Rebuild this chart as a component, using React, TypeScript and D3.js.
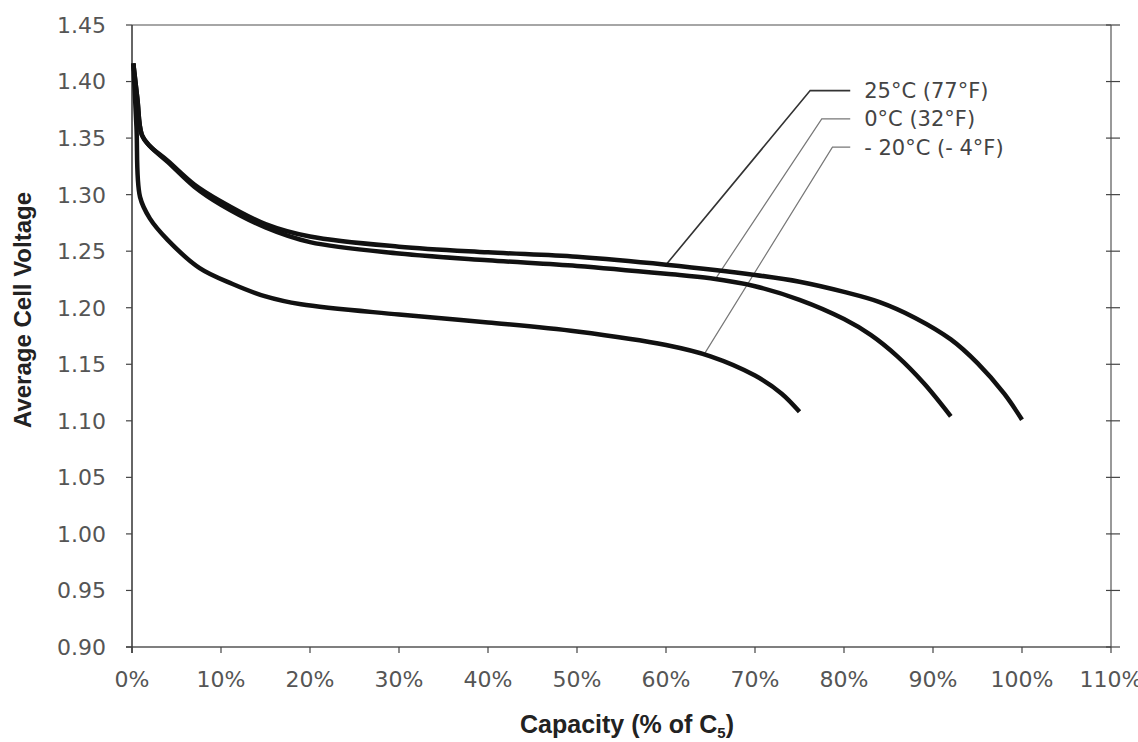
import React from "react";
import * as d3 from "d3";

// capacity (% of C5) and average cell voltage for each temperature
const cap25 = [0.15, 0.6, 1.1, 2, 4, 7, 10, 15, 20, 30, 40, 50, 60, 70, 75, 80, 84, 88, 92, 95, 98, 100];
const volt25 = [1.416, 1.385, 1.353, 1.343, 1.330, 1.309, 1.294, 1.274, 1.263, 1.254, 1.249, 1.245, 1.238, 1.229, 1.223, 1.214, 1.205, 1.191, 1.172, 1.151, 1.124, 1.101];

const cap0 = [0.15, 0.6, 1.1, 2, 4, 7, 10, 15, 20, 30, 40, 50, 60, 65, 70, 75, 80, 83, 86, 89, 92];
const volt0 = [1.416, 1.385, 1.353, 1.343, 1.329, 1.307, 1.291, 1.271, 1.258, 1.248, 1.242, 1.237, 1.230, 1.226, 1.219, 1.207, 1.190, 1.176, 1.157, 1.133, 1.104];

const capM20 = [0.15, 0.5, 0.9, 2, 4, 7.6, 11.3, 15, 19, 30, 40, 50, 60, 65, 70, 73, 75];
const voltM20 = [1.416, 1.36, 1.298, 1.279, 1.260, 1.235, 1.221, 1.210, 1.203, 1.194, 1.187, 1.179, 1.167, 1.157, 1.140, 1.124, 1.108];

const seriesLabels = ["25°C (77°F)", "0°C (32°F)", "- 20°C (- 4°F)"];
// leader line: point on curve -> elbow -> end of horizontal
const leaderTarget = [[60, 1.238], [65.6, 1.226], [64.3, 1.159]];
const leaderElbow = [[76.2, 1.392], [77.5, 1.367], [78.7, 1.342]];
const leaderEnd = 80.7;

const xTicks = [0, 10, 20, 30, 40, 50, 60, 70, 80, 90, 100, 110];
const yTicks = [0.9, 0.95, 1.0, 1.05, 1.1, 1.15, 1.2, 1.25, 1.3, 1.35, 1.4, 1.45];

const W = 1138;
const H = 742;

export default function App() {
  const x = d3.scaleLinear().domain([0, 110]).range([132, 1111]);
  const y = d3.scaleLinear().domain([0.9, 1.45]).range([647, 25]);

  const line = d3
    .line<number[]>()
    .x((d) => x(d[0]))
    .y((d) => y(d[1]))
    .curve(d3.curveCatmullRom.alpha(0.5));

  const series = [
    cap25.map((c, i) => [c, volt25[i]]),
    cap0.map((c, i) => [c, volt0[i]]),
    capM20.map((c, i) => [c, voltM20[i]]),
  ];

  const tickFont = "'DejaVu Sans', sans-serif";
  const titleFont = "'Liberation Sans', Arial, sans-serif";

  return (
    <svg
      width={W}
      height={H}
      style={{ position: "absolute", left: 0, top: 0, background: "#fff" }}
    >
      {/* frame */}
      <line x1={x(0)} x2={x(110)} y1={y(1.45)} y2={y(1.45)} stroke="#888" strokeWidth={1.5} />
      <line x1={x(110)} x2={x(110)} y1={y(1.45)} y2={y(0.9)} stroke="#777" strokeWidth={1.5} />
      <line x1={x(0) - 6} x2={x(110)} y1={y(0.9)} y2={y(0.9)} stroke="#555" strokeWidth={1.5} />
      <line x1={x(0)} x2={x(0)} y1={y(1.45)} y2={y(0.9) + 6} stroke="#333" strokeWidth={1.5} />

      {/* y ticks, left and right */}
      {yTicks.map((t) => (
        <g key={"y" + t}>
          <line x1={x(0) - 6} x2={x(0)} y1={y(t)} y2={y(t)} stroke="#444" strokeWidth={1.2} />
          <line x1={x(110) - 5} x2={x(110) + 9} y1={y(t)} y2={y(t)} stroke="#444" strokeWidth={1.2} />
          <text
            x={106}
            y={y(t)}
            dy="0.36em"
            textAnchor="end"
            fontFamily={tickFont}
            fontSize={22}
            fill="#555"
          >
            {d3.format(".2f")(t)}
          </text>
        </g>
      ))}

      {/* x ticks */}
      {xTicks.map((t) => (
        <g key={"x" + t}>
          <line x1={x(t)} x2={x(t)} y1={y(0.9)} y2={y(0.9) + 6} stroke="#444" strokeWidth={1.2} />
          <text
            x={x(t)}
            y={687}
            textAnchor="middle"
            fontFamily={tickFont}
            fontSize={22}
            fill="#555"
          >
            {t}%
          </text>
        </g>
      ))}

      {/* axis titles */}
      <text
        transform={`translate(31, 310) rotate(-90)`}
        textAnchor="middle"
        fontFamily={titleFont}
        fontWeight="bold"
        fontSize={24}
        fill="#222"
      >
        Average Cell Voltage
      </text>
      <text
        x={627}
        y={733}
        textAnchor="middle"
        fontFamily={titleFont}
        fontWeight="bold"
        fontSize={25}
        fill="#222"
      >
        Capacity (% of C<tspan fontSize={15} dy={5}>5</tspan>
        <tspan dy={-5}>)</tspan>
      </text>

      {/* leader lines and labels */}
      {seriesLabels.map((lab, i) => {
        const [tx, ty] = leaderTarget[i];
        const [ex, ey] = leaderElbow[i];
        return (
          <g key={lab}>
            <polyline
              points={`${x(tx)},${y(ty)} ${x(ex)},${y(ey)} ${x(leaderEnd)},${y(ey)}`}
              fill="none"
              stroke={i === 0 ? "#333" : "#777"}
              strokeWidth={i === 0 ? 1.6 : 1.2}
            />
            <text
              x={x(leaderEnd) + 14}
              y={y(ey)}
              dy="0.36em"
              fontFamily={tickFont}
              fontSize={21}
              fill="#444"
            >
              {lab}
            </text>
          </g>
        );
      })}

      {/* curves */}
      {series.map((s, i) => (
        <path
          key={"s" + i}
          d={line(s) || ""}
          fill="none"
          stroke="#111"
          strokeWidth={4.5}
          strokeLinejoin="round"
        />
      ))}
    </svg>
  );
}
